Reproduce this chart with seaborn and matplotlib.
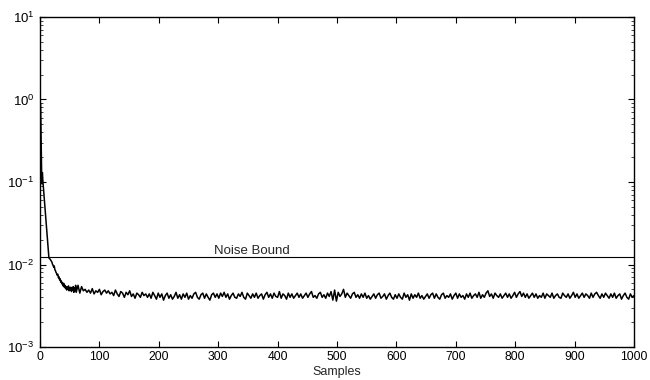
import numpy as np
import pandas as pd
import matplotlib
matplotlib.use("Agg")
import matplotlib.pyplot as plt
import matplotlib.ticker as mticker
import seaborn as sns

# ---- data (error values in units of 1e-3) ----
early_samples = list(range(1, 61))
early_error_milli = [
    900, 300, 95, 130, 100, 81, 66, 53, 43, 35,
    28, 23, 18.5, 15, 12, 11.8, 11.6, 11.3, 11.0, 10.7,
    10.1, 9.8, 9.3, 9.6, 8.7, 8.4, 8.0, 7.8, 7.4, 7.6,
    6.9, 7.1, 6.5, 6.7, 6.1, 6.3, 5.8, 6.0, 5.5, 5.9,
    5.3, 5.6, 5.1, 5.4, 4.9, 5.3, 5.0, 5.5, 4.8, 5.2,
    4.9, 5.3, 4.7, 5.1, 4.9, 5.4, 4.6, 5.2, 4.8, 5.6,
]
floor_samples = list(range(61, 1001, 3))
floor_error_milli = [
    4.6, 5.6, 4.5, 5.4, 4.8, 5.0, 4.6, 4.9, 4.5, 5.1, 4.4, 4.8, 4.6, 5.0, 4.3, 4.7, 4.9, 4.5, 4.8, 4.4,
    4.6, 4.2, 4.9, 4.4, 4.1, 4.7, 4.5, 4.0, 4.6, 4.3, 4.8, 4.1, 4.4, 3.9, 4.5, 4.3, 4.0, 4.6, 4.2, 4.4,
    4.0, 4.4, 3.9, 4.6, 4.2, 3.8, 4.5, 4.0, 4.4, 3.7, 4.2, 4.5, 3.9, 4.3, 3.8, 4.1, 4.6, 3.9, 4.3, 3.8,
    4.4, 4.0, 4.5, 3.8, 4.2, 3.9, 4.4, 4.6, 4.0, 3.8, 4.3, 4.5, 3.9, 4.4, 4.0, 3.7, 4.3, 4.5, 4.0, 4.4,
    3.9, 4.5, 4.1, 4.6, 4.0, 4.4, 3.8, 4.2, 4.5, 4.0, 3.9, 4.4, 4.1, 4.6, 4.0, 3.8, 4.5, 4.2, 3.9, 4.4,
    4.0, 4.5, 3.9, 4.2, 4.4, 3.8, 4.3, 4.6, 4.0, 4.4, 3.9, 4.5, 4.1, 4.0, 4.7, 3.9, 4.4, 4.2, 3.8, 4.5,
    4.0, 4.4, 3.9, 4.2, 4.5, 4.0, 4.4, 3.9, 4.2, 4.5, 4.0, 4.4, 4.7, 4.0, 4.2, 3.9, 4.4, 4.6, 4.0, 4.3,
    3.9, 4.5, 4.1, 4.7, 3.7, 4.9, 3.6, 4.6, 4.1, 4.4, 5.0, 4.0, 4.5, 4.2, 3.9, 4.4, 4.6, 4.0, 4.3, 3.9,
    4.4, 4.0, 4.5, 3.9, 4.2, 3.8, 4.1, 4.4, 3.9, 4.3, 4.5, 3.9, 4.1, 4.4, 3.8, 4.2, 4.5, 4.0, 3.8, 4.3,
    3.9, 4.4, 4.0, 3.8, 4.5, 4.0, 4.3, 3.7, 4.4, 3.9, 4.3, 4.0, 4.5, 3.9, 4.2, 3.8, 4.1, 4.4, 3.9, 4.3,
    4.5, 3.9, 4.4, 4.0, 3.8, 4.3, 4.5, 3.9, 4.2, 4.0, 4.4, 3.8, 4.2, 4.5, 3.9, 4.4, 4.0, 4.2, 3.8, 4.4,
    4.0, 4.5, 3.9, 4.2, 4.4, 4.0, 4.6, 3.9, 4.3, 4.0, 4.5, 4.8, 4.1, 4.4, 3.9, 4.5, 4.2, 4.0, 4.4, 3.9,
    4.2, 4.5, 4.0, 4.4, 3.9, 4.2, 4.6, 4.0, 4.4, 4.7, 4.1, 4.5, 4.0, 4.4, 3.9, 4.2, 4.5, 4.0, 4.4, 3.9,
    4.2, 4.0, 4.5, 3.9, 4.4, 4.2, 4.0, 4.5, 3.9, 4.2, 4.4, 4.0, 3.9, 4.5, 4.2, 4.0, 4.4, 3.9, 4.2, 4.6,
    4.0, 4.4, 3.9, 4.2, 4.5, 4.0, 4.4, 4.2, 3.9, 4.5, 4.0, 4.4, 4.6, 4.2, 3.9, 4.4, 4.0, 4.5, 4.2, 3.9,
    4.4, 4.0, 4.5, 3.9, 4.2, 4.4, 3.8, 4.2, 4.5, 4.0, 3.8, 4.4, 4.0, 4.2,
]
noise_bound = 0.0122
noise_label = "Noise Bound"
x_label = "Samples"
x_ticks = [0, 100, 200, 300, 400, 500, 600, 700, 800, 900, 1000]
y_ticks = [1e-3, 1e-2, 1e-1, 1e0, 1e1]

samples = early_samples + floor_samples
error = np.array(early_error_milli + floor_error_milli) * 1e-3
df = pd.DataFrame({"sample": samples, "error": error})

# ---- style ----
sns.set_style("ticks")
plt.rcParams["font.family"] = ["Liberation Sans", "DejaVu Sans"]
plt.rcParams["mathtext.fontset"] = "custom"
plt.rcParams["mathtext.rm"] = "Liberation Sans"
plt.rcParams["mathtext.it"] = "Liberation Sans"
plt.rcParams["mathtext.default"] = "regular"

fig = plt.figure(figsize=(6.5, 3.8), dpi=100)
ax = fig.add_axes([40 / 650, 33 / 380, 594 / 650, 330 / 380])

sns.lineplot(data=df, x="sample", y="error", color="black", linewidth=1.1, ax=ax)
ax.axhline(noise_bound, color="black", linewidth=0.8)
ax.text(293, noise_bound * 1.2, noise_label, fontsize=9.5, ha="left", va="center")

ax.set_yscale("log")
ax.set_xlim(0, 1000)
ax.set_ylim(1e-3, 1e1)
ax.set_xticks(x_ticks)
ax.set_yticks(y_ticks)
ax.yaxis.set_major_formatter(mticker.LogFormatterSciNotation())
ax.yaxis.set_minor_locator(mticker.LogLocator(base=10, subs=np.arange(2, 10)))
ax.yaxis.set_minor_formatter(mticker.NullFormatter())

ax.set_xlabel(x_label, fontsize=9)
ax.xaxis.label.set_va("center")
ax.xaxis.set_label_coords(0.5, -0.077)
ax.set_ylabel("")

for side in ["top", "right", "left", "bottom"]:
    ax.spines[side].set_visible(True)
    ax.spines[side].set_linewidth(1.0)
    ax.spines[side].set_color("black")

ax.tick_params(axis="both", which="major", direction="in", length=4, width=0.8,
               top=True, right=True, colors="black", pad=3)
ax.tick_params(axis="x", which="major", labelsize=8.7)
ax.tick_params(axis="y", which="major", labelsize=9.5, pad=4)
ax.tick_params(axis="y", which="minor", direction="in", length=2.5, width=0.6,
               left=True, right=True)
ax.tick_params(axis="x", which="minor", bottom=False, top=False)

fig.savefig("out.png", dpi=100)
